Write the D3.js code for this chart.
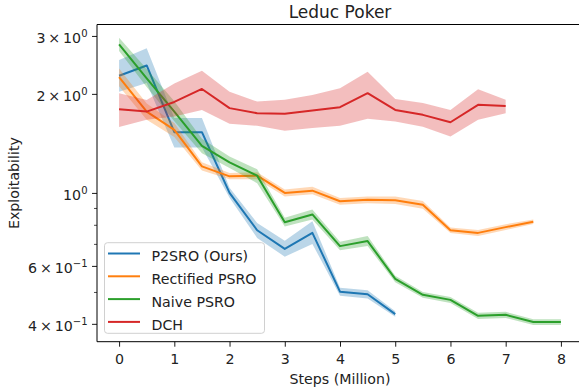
<!DOCTYPE html>
<head>
<meta charset="utf-8">
<script src="https://d3js.org/d3.v7.min.js"></script>
<style>
  body { margin: 0; background: #fff; }
  text { font-family: "DejaVu Sans", sans-serif; fill: #222; }
</style>
</head>
<body>
<div id="chart"></div>
<script>

// steps (million) at which each run was evaluated
var steps = [0, 0.5, 1, 1.5, 2, 2.5, 3, 3.5, 4, 4.5, 5, 5.5, 6, 6.5, 7, 7.5, 8]

// mean exploitability per series, with the shaded band (low / high)
var p2sro     = [2.27, 2.44, 1.53, 1.53, 1.0, 0.77, 0.676, 0.756, 0.501, 0.492, 0.428]
var p2sroLo   = [2.03, 2.16, 1.375, 1.375, 0.966, 0.73, 0.64, 0.70, 0.487, 0.478, 0.42]
var p2sroHi   = [2.535, 2.75, 1.69, 1.69, 1.036, 0.81, 0.715, 0.82, 0.515, 0.506, 0.437]

var rectified   = [2.25, 1.767, 1.555, 1.204, 1.123, 1.128, 1.0, 1.016, 0.943, 0.954, 0.95, 0.921, 0.77, 0.756, 0.787, 0.817]
var rectifiedLo = [2.11, 1.67, 1.48, 1.17, 1.10, 1.10, 0.975, 0.99, 0.92, 0.93, 0.925, 0.895, 0.755, 0.74, 0.772, 0.805]
var rectifiedHi = [2.39, 1.87, 1.63, 1.24, 1.15, 1.155, 1.025, 1.045, 0.965, 0.975, 0.975, 0.945, 0.785, 0.772, 0.803, 0.83]

var naive   = [2.83, 2.23, 1.767, 1.39, 1.238, 1.128, 0.814, 0.86, 0.689, 0.714, 0.548, 0.49, 0.473, 0.423, 0.426, 0.405, 0.405]
var naiveLo = [2.7, 2.1, 1.65, 1.32, 1.19, 1.07, 0.79, 0.83, 0.67, 0.69, 0.535, 0.48, 0.463, 0.414, 0.417, 0.397, 0.397]
var naiveHi = [2.96, 2.38, 1.9, 1.46, 1.29, 1.18, 0.84, 0.89, 0.71, 0.74, 0.56, 0.50, 0.483, 0.432, 0.435, 0.413, 0.413]

var dch   = [1.797, 1.767, 1.89, 2.07, 1.81, 1.747, 1.74, 1.78, 1.822, 2.01, 1.787, 1.727, 1.64, 1.852, 1.838]
var dchLo = [1.585, 1.668, 1.706, 1.788, 1.622, 1.6, 1.545, 1.576, 1.6, 1.68, 1.648, 1.588, 1.484, 1.668, 1.747]
var dchHi = [2.01, 1.917, 2.15, 2.35, 2.03, 1.895, 1.918, 1.986, 2.08, 2.336, 1.93, 1.877, 1.787, 2.066, 1.918]

var seriesNames = ["P2SRO (Ours)", "Rectified PSRO", "Naive PSRO", "DCH"]
var colours = ["#1f77b4", "#ff7f0e", "#2ca02c", "#d62728"]

var xTicks = [0, 1, 2, 3, 4, 5, 6, 7, 8]
var yTicks = [0.4, 0.6, 1, 2, 3]
var yTickMant = ["4", "6", "", "2", "3"]
var yTickExp = ["\u22121", "\u22121", "0", "0", "0"]
var yMinor = [0.5, 0.7, 0.8, 0.9]

var width = 579
var height = 392
// plot box (window.top is read-only, so no plain "top")
var boxL = 97, boxR = 583, boxT = 24.5, boxB = 341.7
var fontSize = 14.2

var series = [
  { name: seriesNames[0], mean: p2sro, lo: p2sroLo, hi: p2sroHi },
  { name: seriesNames[1], mean: rectified, lo: rectifiedLo, hi: rectifiedHi },
  { name: seriesNames[2], mean: naive, lo: naiveLo, hi: naiveHi },
  { name: seriesNames[3], mean: dch, lo: dchLo, hi: dchHi }
]

var svg = d3.select("#chart").append("svg")
  .attr("width", width)
  .attr("height", height)

var x = d3.scaleLinear().domain([-0.4, 8.4]).range([boxL, boxR])
var y = d3.scaleLog().domain([0.353, 3.25]).range([boxB, boxT])

svg.append("clipPath").attr("id", "plotclip")
  .append("rect")
  .attr("x", boxL).attr("y", boxT)
  .attr("width", boxR - boxL).attr("height", boxB - boxT)

var plot = svg.append("g").attr("clip-path", "url(#plotclip)")

series.forEach(function (s, k) {
  var pts = s.mean.map(function (v, i) {
    return { x: steps[i], v: v, lo: s.lo[i], hi: s.hi[i] }
  })
  var line = d3.line()
    .x(function (d) { return x(d.x) })
    .y(function (d) { return y(d.v) })
  var area = d3.area()
    .x(function (d) { return x(d.x) })
    .y0(function (d) { return y(d.lo) })
    .y1(function (d) { return y(d.hi) })

  plot.append("path")
    .datum(pts)
    .attr("d", line)
    .attr("fill", "none")
    .attr("stroke", colours[k])
    .attr("stroke-width", 2)
    .attr("stroke-linejoin", "round")

  plot.append("path")
    .datum(pts)
    .attr("d", area)
    .attr("fill", colours[k])
    .attr("fill-opacity", 0.3)
})

// axes
var xAxis = svg.append("g")
  .attr("transform", "translate(0," + boxB + ")")
  .call(d3.axisBottom(x).tickValues(xTicks).tickSize(5).tickPadding(7).tickFormat(d3.format("d")))
xAxis.select(".domain").remove()
xAxis.selectAll("line").attr("stroke", "#000").attr("stroke-width", 0.9)
xAxis.selectAll("text").style("font-size", fontSize + "px").attr("fill", "#222")
  .style("font-family", "DejaVu Sans")

var yAxis = svg.append("g")
  .attr("transform", "translate(" + boxL + ",0)")
  .call(d3.axisLeft(y).tickValues(yTicks).tickSize(5).tickFormat(""))
yAxis.select(".domain").remove()
yAxis.selectAll("line").attr("stroke", "#000").attr("stroke-width", 0.9)

var yMinorAxis = svg.append("g")
  .attr("transform", "translate(" + boxL + ",0)")
  .call(d3.axisLeft(y).tickValues(yMinor).tickSize(3).tickFormat(""))
yMinorAxis.select(".domain").remove()
yMinorAxis.selectAll("line").attr("stroke", "#000").attr("stroke-width", 0.7)

// mathtext style tick labels
yTicks.forEach(function (v, i) {
  var t = svg.append("text")
    .attr("x", 87.5)
    .attr("y", y(v) + 7)
    .attr("text-anchor", "end")
    .style("font-size", fontSize + "px")
  var base = yTickMant[i] === "" ? "10" : yTickMant[i] + "\u2009\u00d7\u200910"
  t.append("tspan").text(base)
  t.append("tspan")
    .attr("dy", -6)
    .style("font-size", "10px")
    .text(yTickExp[i])
})

// frame
svg.append("path")
  .attr("d", "M" + boxR + "," + boxT + "H" + boxL + "V" + boxB + "H" + boxR)
  .attr("fill", "none")
  .attr("stroke", "#000")
  .attr("stroke-width", 1)

svg.append("text")
  .attr("x", (boxL + boxR) / 2)
  .attr("y", 17.5)
  .attr("text-anchor", "middle")
  .style("font-size", "17px")
  .text("Leduc Poker")

svg.append("text")
  .attr("x", (boxL + boxR) / 2)
  .attr("y", 384)
  .attr("text-anchor", "middle")
  .style("font-size", fontSize + "px")
  .text("Steps (Million)")

svg.append("text")
  .attr("transform", "translate(19," + (boxT + boxB) / 2 + ") rotate(-90)")
  .attr("text-anchor", "middle")
  .style("font-size", fontSize + "px")
  .text("Exploitability")

// legend
var legend = svg.append("g")
legend.append("rect")
  .attr("x", 104.5).attr("y", 242.7)
  .attr("width", 160).attr("height", 90.6)
  .attr("rx", 3)
  .attr("fill", "#fff").attr("fill-opacity", 0.8)
  .attr("stroke", "#d0d0d0").attr("stroke-width", 1)

seriesNames.forEach(function (name, i) {
  var ly = 253.5 + i * 22.8
  legend.append("line")
    .attr("x1", 108).attr("x2", 140)
    .attr("y1", ly).attr("y2", ly)
    .attr("stroke", colours[i]).attr("stroke-width", 2)
  legend.append("text")
    .attr("x", 151.5).attr("y", ly + 7.8)
    .style("font-size", fontSize + "px")
    .text(name)
})

</script>
</body>
